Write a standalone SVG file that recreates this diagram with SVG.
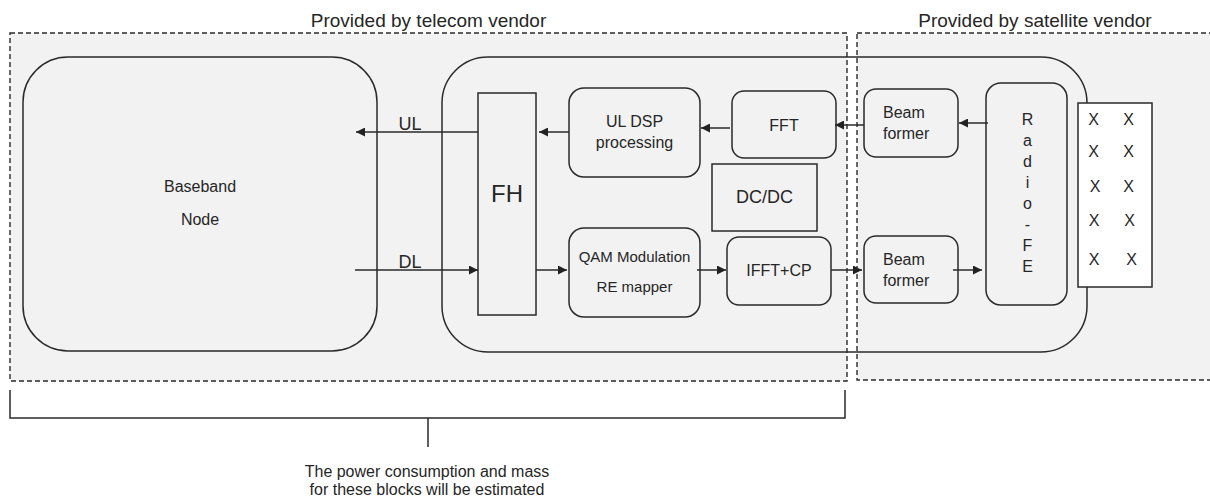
<svg xmlns="http://www.w3.org/2000/svg" width="1210" height="499" viewBox="0 0 1210 499">
<defs>
<style>
.t{font-family:"Liberation Sans",Arial,sans-serif;fill:#262626;}
.c{text-anchor:middle;}
.zone{fill:#f2f2f2;stroke:#2a2a2a;stroke-width:1.4;stroke-dasharray:5 3;}
.box{fill:none;stroke:#2a2a2a;stroke-width:1.5;}
.ln{fill:none;stroke:#2a2a2a;stroke-width:1.5;}
</style>
<marker id="ah" viewBox="0 0 10 10" refX="10" refY="5" markerWidth="9" markerHeight="9" markerUnits="userSpaceOnUse" orient="auto">
<path d="M0,0 L10,5 L0,10 z" fill="#222"/>
</marker>
</defs>
<rect width="1210" height="499" fill="#ffffff"/>

<g id="zone-telecom">
<rect class="zone" x="10" y="33" width="837" height="348"/>
<text class="t c" x="428.5" y="27" font-size="19">Provided by telecom vendor</text>
</g>
<g id="zone-satellite">
<rect class="zone" x="857" y="33" width="360" height="347"/>
<text class="t c" x="1035" y="27" font-size="19">Provided by satellite vendor</text>
</g>

<g id="baseband">
<rect class="box" x="23" y="57" width="354" height="294" rx="45"/>
<text class="t c" x="200" y="192" font-size="16">Baseband</text>
<text class="t c" x="200" y="225" font-size="16">Node</text>
</g>

<g id="radio-unit">
<rect class="box" x="442" y="57" width="645" height="295" rx="46"/>
</g>

<g id="fh">
<rect class="box" x="478" y="93" width="58" height="222"/>
<text class="t c" x="507" y="202" font-size="24">FH</text>
</g>
<g id="ul-dsp">
<rect class="box" x="569" y="88" width="131" height="89" rx="15"/>
<text class="t c" x="634.5" y="127" font-size="16">UL DSP</text>
<text class="t c" x="634.5" y="148" font-size="16">processing</text>
</g>
<g id="fft">
<rect class="box" x="732" y="91" width="104" height="67" rx="12"/>
<text class="t c" x="784" y="131" font-size="16">FFT</text>
</g>
<g id="dcdc">
<rect class="box" x="712" y="164" width="105" height="67"/>
<text class="t c" x="764.5" y="203" font-size="18">DC/DC</text>
</g>
<g id="qam">
<rect class="box" x="569" y="228" width="131" height="89" rx="15"/>
<text class="t c" x="634.5" y="262" font-size="15">QAM Modulation</text>
<text class="t c" x="634.5" y="292" font-size="15">RE mapper</text>
</g>
<g id="ifft">
<rect class="box" x="727" y="237" width="104" height="68" rx="12"/>
<text class="t c" x="779" y="276" font-size="16">IFFT+CP</text>
</g>
<g id="beam1">
<rect class="box" x="864" y="89" width="94" height="68" rx="12"/>
<text class="t" x="883" y="118" font-size="16">Beam</text>
<text class="t" x="883" y="139" font-size="16">former</text>
</g>
<g id="beam2">
<rect class="box" x="864" y="236" width="94" height="67" rx="12"/>
<text class="t" x="883" y="265" font-size="16">Beam</text>
<text class="t" x="883" y="286" font-size="16">former</text>
</g>
<g id="radio-fe">
<rect class="box" x="986" y="83" width="81" height="222" rx="15"/>
<g class="t c" font-size="16">
<text x="1027.5" y="125">R</text>
<text x="1027.5" y="146">a</text>
<text x="1027.5" y="167">d</text>
<text x="1027.5" y="188">i</text>
<text x="1027.5" y="209">o</text>
<text x="1027.5" y="230">-</text>
<text x="1027.5" y="251">F</text>
<text x="1027.5" y="272">E</text>
</g>
</g>
<g id="antenna">
<rect x="1078" y="103" width="74" height="184" fill="#ffffff" stroke="#2a2a2a" stroke-width="1.5"/>
<g class="t c" font-size="16">
<text x="1093.5" y="125">X</text><text x="1128.5" y="125">X</text>
<text x="1093.5" y="157">X</text><text x="1128.5" y="157">X</text>
<text x="1095" y="192">X</text><text x="1128.5" y="192">X</text>
<text x="1094" y="226">X</text><text x="1129.5" y="226">X</text>
<text x="1094" y="265">X</text><text x="1131.5" y="265">X</text>
</g>
</g>

<g id="connectors">
<line class="ln" x1="478" y1="132" x2="356" y2="132" marker-end="url(#ah)"/>
<text class="t c" x="410" y="130" font-size="18">UL</text>
<line class="ln" x1="355" y1="270" x2="478" y2="270" marker-end="url(#ah)"/>
<text class="t c" x="410" y="268" font-size="18">DL</text>
<line class="ln" x1="569" y1="132" x2="539" y2="132" marker-end="url(#ah)"/>
<line class="ln" x1="730" y1="128" x2="701" y2="128" marker-end="url(#ah)"/>
<line class="ln" x1="864" y1="125" x2="835" y2="125" marker-end="url(#ah)"/>
<line class="ln" x1="988" y1="123" x2="959" y2="123" marker-end="url(#ah)"/>
<line class="ln" x1="536" y1="270" x2="567" y2="270" marker-end="url(#ah)"/>
<line class="ln" x1="697" y1="270" x2="726" y2="270" marker-end="url(#ah)"/>
<line class="ln" x1="831" y1="270" x2="862" y2="270" marker-end="url(#ah)"/>
<line class="ln" x1="953" y1="270" x2="982" y2="270" marker-end="url(#ah)"/>
</g>

<g id="bracket">
<path class="ln" d="M10,390 V418 H845 V390"/>
<line class="ln" x1="428" y1="418" x2="428" y2="447"/>
<text class="t c" x="427" y="477" font-size="16">The power consumption and mass</text>
<text class="t c" x="427" y="495" font-size="16">for these blocks will be estimated</text>
</g>
</svg>
